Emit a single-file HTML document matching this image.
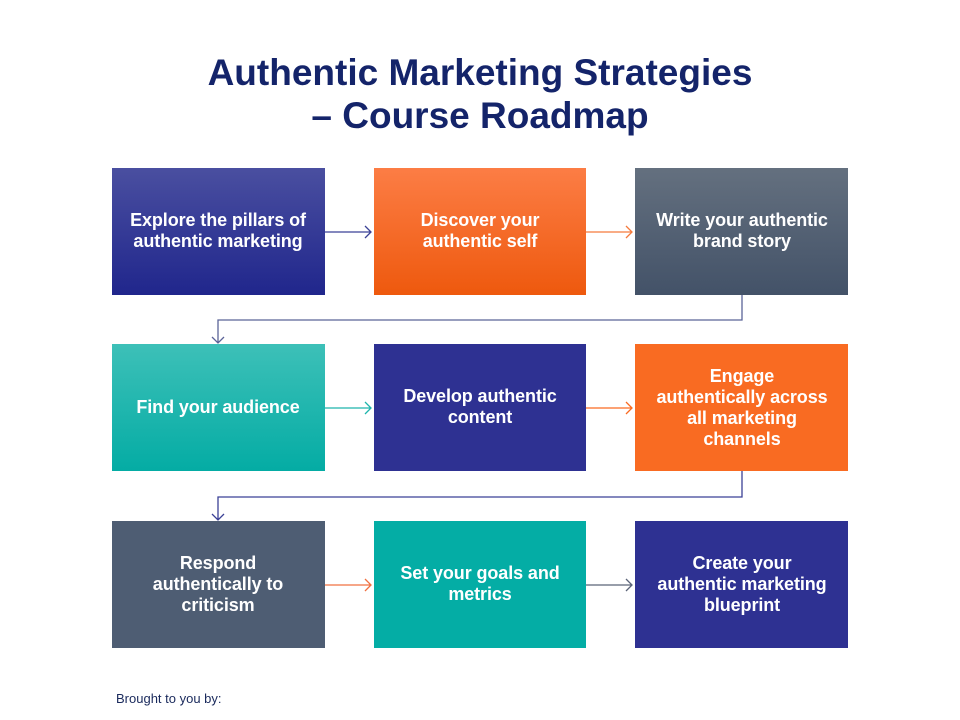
<!DOCTYPE html>
<html><head><meta charset="utf-8"><style>
html,body{margin:0;padding:0;background:#fff;}
svg{display:block;}
.t{font-family:"Liberation Sans",sans-serif;font-weight:bold;fill:#fff;font-size:18px;text-anchor:middle;letter-spacing:-0.1px;}
.h{font-family:"Liberation Sans",sans-serif;font-weight:bold;fill:#14246a;font-size:37px;text-anchor:middle;}
</style></head><body>
<svg width="960" height="720" viewBox="0 0 960 720" xmlns="http://www.w3.org/2000/svg">
<defs>
<linearGradient id="gb" x1="0" y1="0" x2="0" y2="1"><stop offset="0" stop-color="#4a4fa0"/><stop offset="1" stop-color="#20268c"/></linearGradient>
<linearGradient id="go" x1="0" y1="0" x2="0" y2="1"><stop offset="0" stop-color="#fc7d45"/><stop offset="1" stop-color="#ee590e"/></linearGradient>
<linearGradient id="gs" x1="0" y1="0" x2="0" y2="1"><stop offset="0" stop-color="#64707f"/><stop offset="1" stop-color="#435268"/></linearGradient>
<linearGradient id="gt" x1="0" y1="0" x2="0" y2="1"><stop offset="0" stop-color="#3dc0b8"/><stop offset="1" stop-color="#04aca4"/></linearGradient>
</defs>
<text class="h" x="480" y="85">Authentic Marketing Strategies</text>
<text class="h" x="480" y="128">– Course Roadmap</text>

<rect x="112" y="168" width="213" height="127" fill="url(#gb)"/>
<rect x="374" y="168" width="212" height="127" fill="url(#go)"/>
<rect x="635" y="168" width="213" height="127" fill="url(#gs)"/>
<rect x="112" y="344" width="213" height="127" fill="url(#gt)"/>
<rect x="374" y="344" width="212" height="127" fill="#2e3192"/>
<rect x="635" y="344" width="213" height="127" fill="#f96b22"/>
<rect x="112" y="521" width="213" height="127" fill="#4e5d73"/>
<rect x="374" y="521" width="212" height="127" fill="#04ada5"/>
<rect x="635" y="521" width="213" height="127" fill="#2e3192"/>

<g fill="none" stroke-width="1.3">
<path d="M325 232H371M365 226l6 6l-6 6" stroke="#3b4196"/>
<path d="M586 232H632M626 226l6 6l-6 6" stroke="#f57a3c"/>
<path d="M742 295V320H218V343M212 337l6 6l6-6" stroke="#5b6398"/>
<path d="M325 408H371M365 402l6 6l-6 6" stroke="#1eb5ac"/>
<path d="M586 408H632M626 402l6 6l-6 6" stroke="#f96b22"/>
<path d="M742 471V497H218V520M212 514l6 6l6-6" stroke="#3b4196"/>
<path d="M325 585H371M365 579l6 6l-6 6" stroke="#f07040"/>
<path d="M586 585H632M626 579l6 6l-6 6" stroke="#5b6478"/>
</g>

<text class="t" x="218" y="226">Explore the pillars of</text>
<text class="t" x="218" y="247">authentic marketing</text>
<text class="t" x="480" y="226">Discover your</text>
<text class="t" x="480" y="247">authentic self</text>
<text class="t" x="742" y="226">Write your authentic</text>
<text class="t" x="742" y="247">brand story</text>

<text class="t" x="218" y="413">Find your audience</text>
<text class="t" x="480" y="402">Develop authentic</text>
<text class="t" x="480" y="423">content</text>
<text class="t" x="742" y="382">Engage</text>
<text class="t" x="742" y="403">authentically across</text>
<text class="t" x="742" y="424">all marketing</text>
<text class="t" x="742" y="445">channels</text>

<text class="t" x="218" y="569">Respond</text>
<text class="t" x="218" y="590">authentically to</text>
<text class="t" x="218" y="611">criticism</text>
<text class="t" x="480" y="579">Set your goals and</text>
<text class="t" x="480" y="600">metrics</text>
<text class="t" x="742" y="569">Create your</text>
<text class="t" x="742" y="590">authentic marketing</text>
<text class="t" x="742" y="611">blueprint</text>

<text x="116" y="703" font-family="Liberation Sans, sans-serif" font-size="13" fill="#1a2a5c">Brought to you by:</text>
</svg>
</body></html>
